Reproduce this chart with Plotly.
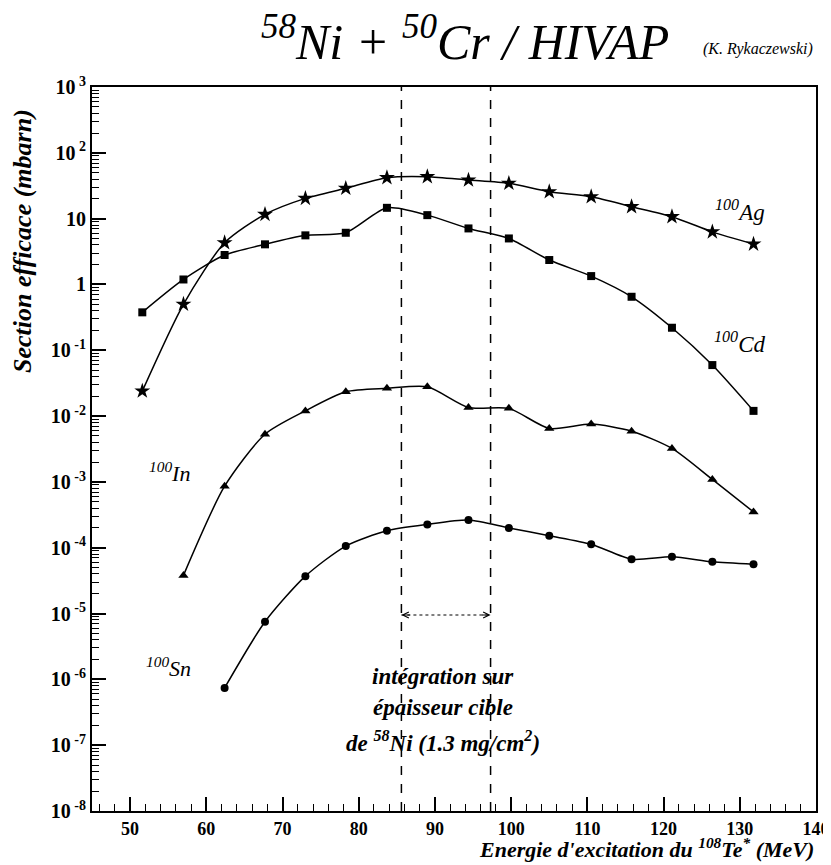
import numpy as np
import plotly.graph_objects as go

# Energies (MeV)
energy = [51.6, 57.0, 62.4, 67.7, 73.0, 78.3, 83.7, 89.0, 94.4, 99.7,
          105.0, 110.5, 115.8, 121.1, 126.4, 131.8]

# Cross sections (mbarn)
ag100 = [0.024, 0.50, 4.3, 11.6, 20.3, 28.9, 41.9, 43.4, 38.6, 34.4,
         25.6, 21.5, 15.2, 10.7, 6.3, 4.1]
cd100 = [0.377, 1.19, 2.8, 4.07, 5.57, 6.1, 14.6, 11.3, 7.1, 5.0,
         2.35, 1.34, 0.65, 0.22, 0.0596, 0.0120]
in_energy = energy[1:]
in100 = [3.8e-5, 8.6e-4, 5.3e-3, 0.012, 0.0234, 0.0264, 0.0279, 0.01355,
         0.0131, 0.0065, 0.00755, 0.0059, 3.23e-3, 1.09e-3, 3.5e-4]
sn_energy = energy[2:]
sn100 = [7.4e-7, 7.5e-6, 3.7e-5, 1.06e-4, 1.81e-4, 2.26e-4, 2.63e-4, 2.0e-4,
         1.52e-4, 1.13e-4, 6.7e-5, 7.3e-5, 6.1e-5, 5.6e-5]

# Integration window (MeV) and arrow level
window = [85.6, 97.3]
arrow_level = 9.5e-6

x_ticks = [50, 60, 70, 80, 90, 100, 110, 120, 130, 140]
y_exps = list(range(-8, 4))


def ylab(e):
    if e == 0:
        return "<b>1</b>"
    if e == 1:
        return "<b>10</b>"
    return "<b>10<sup> %d</sup></b>" % e


y_ticktext = [ylab(e) for e in y_exps]

SERIF = "Liberation Serif"
BLACK = "black"

fig = go.Figure()

series = [
    (energy, ag100, "star", 12),
    (energy, cd100, "square", 8),
    (in_energy, in100, "triangle-up", 9),
    (sn_energy, sn100, "circle", 8),
]
for xs, ys, sym, sz in series:
    fig.add_trace(go.Scatter(
        x=xs, y=ys, mode="lines+markers",
        line=dict(color=BLACK, width=1.5, shape="spline", smoothing=0.7),
        marker=dict(symbol=sym, size=sz, color=BLACK),
        showlegend=False, hoverinfo="skip"))

# dotted arrow line
fig.add_trace(go.Scatter(
    x=window, y=[arrow_level, arrow_level], mode="lines",
    line=dict(color=BLACK, width=1, dash="dot"),
    showlegend=False, hoverinfo="skip"))

for xv in window:
    fig.add_shape(type="line", xref="x", yref="paper", x0=xv, x1=xv, y0=0, y1=1,
                  line=dict(color=BLACK, width=1.5, dash="dash"))

ly = float(np.log10(arrow_level))
fig.add_annotation(x=window[0], y=ly, xref="x", yref="y", ax=10, ay=0, text="",
                   showarrow=True, arrowhead=5, arrowsize=1.2, arrowwidth=1, arrowcolor=BLACK)
fig.add_annotation(x=window[1], y=ly, xref="x", yref="y", ax=-10, ay=0, text="",
                   showarrow=True, arrowhead=5, arrowsize=1.2, arrowwidth=1, arrowcolor=BLACK)

minor_y = [k * 10.0 ** e for e in range(-8, 3) for k in range(2, 10)]
minor_x = [v for v in range(46, 140, 2) if v % 10 != 0]

fig.update_xaxes(
    range=[45, 140], tickmode="array", tickvals=x_ticks,
    ticktext=["<b>%d</b>" % v for v in x_ticks],
    ticks="inside", ticklen=14, tickwidth=1.5, tickcolor=BLACK,
    showline=True, linecolor=BLACK, linewidth=2, mirror=True,
    showgrid=False, zeroline=False, automargin=False,
    tickfont=dict(family=SERIF, size=18, color=BLACK),
    minor=dict(tickmode="array", tickvals=minor_x, ticks="inside", ticklen=7,
               tickwidth=1, tickcolor=BLACK, showgrid=False),
)
fig.update_yaxes(
    type="log", range=[-8, 3], tickmode="array",
    tickvals=[10.0 ** e for e in y_exps], ticktext=y_ticktext,
    ticks="inside", ticklen=14, tickwidth=1.5, tickcolor=BLACK,
    showline=True, linecolor=BLACK, linewidth=2, mirror=True,
    showgrid=False, zeroline=False, automargin=False,
    tickfont=dict(family=SERIF, size=20, color=BLACK),
    minor=dict(tickmode="array", tickvals=minor_y, ticks="inside", ticklen=7,
               tickwidth=1, tickcolor=BLACK, showgrid=False),
)


def ital(size, bold=False):
    d = dict(family=SERIF, size=size, color=BLACK, style="italic")
    if bold:
        d["weight"] = "bold"
    return d


ann = [
    (0.515, 1.067, "<sup>58</sup>Ni + <sup>50</sup>Cr / HIVAP", 50, False),
    (0.92, 1.053, "(K. Rykaczewski)", 16, False),
    (0.895, 0.830, "<sup>100</sup>Ag", 23, False),
    (0.895, 0.647, "<sup>100</sup>Cd", 23, False),
    (0.107, 0.468, "<sup>100</sup>In", 22, False),
    (0.105, 0.199, "<sup>100</sup>Sn", 22, False),
    (0.4845, 0.186, "intégration sur", 23, True),
    (0.4845, 0.143, "épaisseur cible", 23, True),
    (0.4845, 0.0964, "de <sup>58</sup>Ni (1.3 mg/cm<sup>2</sup>)", 23, True),
]
for x, y, t, s, b in ann:
    fig.add_annotation(x=x, y=y, xref="paper", yref="paper", text=t, showarrow=False,
                       font=ital(s, b), xanchor="center", yanchor="middle")

fig.add_annotation(x=-0.097, y=0.787, xref="paper", yref="paper",
                   text="Section efficace (mbarn)", textangle=-90, showarrow=False,
                   font=ital(26, True), xanchor="center", yanchor="middle")
fig.add_annotation(x=1.0, y=-0.0515, xref="paper", yref="paper",
                   text="Energie d'excitation du <sup>108</sup>Te<sup>*</sup> (MeV)",
                   showarrow=False, font=ital(22, True), xanchor="right", yanchor="middle")

# page body adds an 8 px offset, so the figure is sized to fit the window
fig.update_layout(
    width=823, height=857,
    margin=dict(l=84, r=15, t=79, b=54, autoexpand=False),
    paper_bgcolor="white", plot_bgcolor="white",
    showlegend=False,
)

fig.write_html("out.html")
